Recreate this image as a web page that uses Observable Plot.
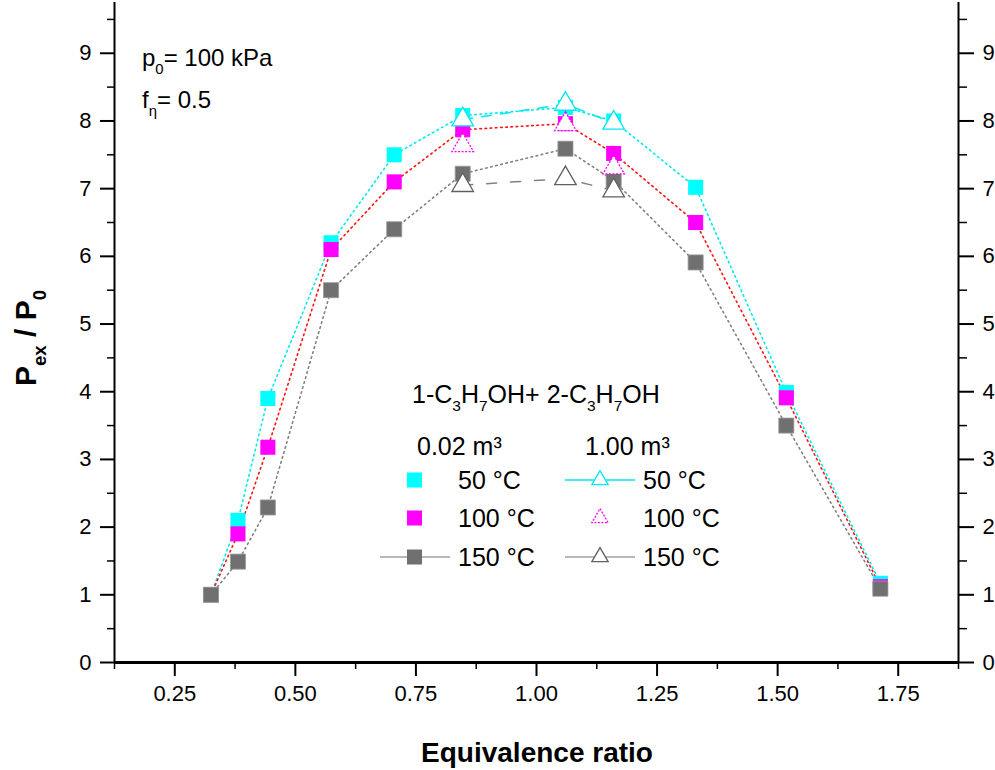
<!DOCTYPE html>
<html><head><meta charset="utf-8">
<script src="https://cdn.jsdelivr.net/npm/d3@7"></script>
<script src="https://cdn.jsdelivr.net/npm/@observablehq/plot@0.6"></script>
<style>
body{margin:0;background:#fff;}
#chart{width:995px;height:770px;}
</style>
</head><body><div id="chart"></div>
<script>
// ---- data ----
const phi = [0.325, 0.381, 0.443, 0.574, 0.705, 0.847, 1.06, 1.16, 1.33, 1.518, 1.713];
const small50  = [1.0, 2.1, 3.9, 6.2, 7.5, 8.08, 8.2, 8.0, 7.02, 3.99, 1.17];
const small100 = [1.0, 1.9, 3.18, 6.1, 7.1, 7.87, 7.96, 7.52, 6.5, 3.91, 1.12];
const small150 = [1.0, 1.49, 2.29, 5.5, 6.4, 7.22, 7.59, 7.12, 5.91, 3.5, 1.09];
const phiLarge = [0.847, 1.06, 1.16];
const large50  = [8.02, 8.25, 7.97];
const large100 = [7.64, 7.95, 7.31];
const large150 = [7.05, 7.15, 6.97];
const temps = ["50 °C", "100 °C", "150 °C"];
const markColors = ["#00ffff", "#ff00ff", "#707070"];
const lineColors = ["#00e8f0", "#ff1010", "#808080"];
const triColors = ["#00e8f0", "#ff00ff", "#606060"];

const xDomain = [0.125, 1.875];
const yDomain = [0, 9.75];
const xMajor = [0.25, 0.5, 0.75, 1.0, 1.25, 1.5, 1.75];
const xMinor = [0.125, 0.375, 0.625, 0.875, 1.125, 1.375, 1.625, 1.875];
const yMajor = [0, 1, 2, 3, 4, 5, 6, 7, 8, 9];
const yMinor = [0.5, 1.5, 2.5, 3.5, 4.5, 5.5, 6.5, 7.5, 8.5, 9.5];

// ---- tables ----
const smallSeries = [small50, small100, small150];
const largeSeries = [large50, large100, large150];
const smallRows = smallSeries.flatMap((ys, k) => phi.map((x, i) => ({x, y: ys[i], k})));
const largeRows = largeSeries.flatMap((ys, k) => phiLarge.map((x, i) => ({x, y: ys[i], k})));

const font = "'Liberation Sans', Arial, sans-serif";
const marks = [];
// dotted lines for 0.02 m3
for (let k = 0; k < 3; k++) {
  marks.push(Plot.line(smallRows.filter(d => d.k === k), {x: "x", y: "y", stroke: lineColors[k], strokeWidth: 1.6, strokeDasharray: "1.6,3.6"}));
}
// dashed lines for 1.00 m3 (50 and 150 °C)
marks.push(Plot.line(largeRows.filter(d => d.k === 0), {x: "x", y: "y", stroke: lineColors[0], strokeWidth: 1.5, strokeDasharray: "10,9"}));
marks.push(Plot.line(largeRows.filter(d => d.k === 2), {x: "x", y: "y", stroke: lineColors[2], strokeWidth: 1.5, strokeDasharray: "10,14"}));
// squares
for (let k = 0; k < 3; k++) {
  marks.push(Plot.dot(smallRows.filter(d => d.k === k), {x: "x", y: "y", symbol: "square", r: 8.5, fill: markColors[k], stroke: k === 2 ? "#999" : "none", strokeWidth: 0.8}));
}
// triangles
for (let k = 0; k < 3; k++) {
  marks.push(Plot.dot(largeRows.filter(d => d.k === k), {x: "x", y: "y", symbol: "triangle", r: 8, fill: "white", stroke: triColors[k], strokeWidth: 1.3, strokeDasharray: k === 1 ? "2,1.5" : null}));
}

const svg = Plot.plot({
  width: 995,
  height: 770,
  marginLeft: 114,
  marginRight: 37,
  marginTop: 2,
  marginBottom: 108,
  style: {fontFamily: font, fontSize: "22px", color: "#000", background: "#fff"},
  x: {domain: xDomain},
  y: {domain: yDomain},
  marks: [
    ...marks,
    Plot.ruleX(xDomain, {stroke: "#000", strokeWidth: 2}),
    Plot.ruleY([yDomain[0]], {stroke: "#000", strokeWidth: 3}),
    Plot.axisX(xMajor, {tickSize: 14, tickPadding: 9, tickFormat: d3.format(".2f"), label: null, strokeWidth: 2, fontSize: 22}),
    Plot.axisX(xMinor, {tickSize: 7, tickFormat: () => "", label: null, strokeWidth: 1.5}),
    Plot.axisY(yMajor, {anchor: "left", tickSize: 14, tickPadding: 9, tickFormat: d3.format("d"), label: null, strokeWidth: 2, fontSize: 22}),
    Plot.axisY(yMinor, {anchor: "left", tickSize: 7, tickFormat: () => "", label: null, strokeWidth: 1.5}),
    Plot.axisY(yMajor, {anchor: "right", tickSize: 15, tickPadding: 9, tickFormat: d3.format("d"), label: null, strokeWidth: 2, fontSize: 22}),
    Plot.axisY(yMinor, {anchor: "right", tickSize: 8, tickFormat: () => "", label: null, strokeWidth: 1.5})
  ]
});

const s = d3.select(svg);
function addRich(g, x, y, segs, size, weight, anchor) {
  const t = g.append("text").attr("x", x).attr("y", y).attr("font-size", size)
    .attr("font-family", font).attr("fill", "#000").attr("text-anchor", anchor || "start");
  if (weight) t.attr("font-weight", weight);
  let shift = 0;
  segs.forEach(([txt, kind]) => {
    const sp = t.append("tspan").text(txt);
    let target = 0;
    if (kind === "sub") { target = size * 0.32; sp.attr("font-size", size * 0.62); }
    sp.attr("dy", target - shift);
    shift = target;
  });
  return t;
}
const g = s.append("g");
// annotations
addRich(g, 142, 66, [["p"], ["0", "sub"], ["= 100 kPa"]], 24);
addRich(g, 142, 108, [["f"], ["η", "sub"], ["= 0.5"]], 24);
// axis titles
addRich(g, 537, 762, [["Equivalence ratio"]], 28, "bold", "middle");
addRich(g, 0, 0, [["P"], ["ex", "sub"], [" / P"], ["0", "sub"]], 30, "bold", "middle")
  .attr("transform", "translate(36,338) rotate(-90)");

// legend
const L = s.append("g");
const fs = 25;
addRich(L, 412, 403, [["1-C"], ["3", "sub"], ["H"], ["7", "sub"], ["OH+ 2-C"], ["3", "sub"], ["H"], ["7", "sub"], ["OH"]], fs);
addRich(L, 417, 455, [["0.02 m³"]], fs);
addRich(L, 585, 455, [["1.00 m³"]], fs);
const rowY = [480, 518, 557];
temps.forEach((tname, k) => {
  const cy = rowY[k];
  if (k === 2) L.append("line").attr("x1", 380).attr("x2", 450).attr("y1", cy).attr("y2", cy).attr("stroke", "#a0a0a0").attr("stroke-width", 1.5);
  L.append("rect").attr("x", 407).attr("y", cy - 7.5).attr("width", 15).attr("height", 15).attr("fill", markColors[k]);
  addRich(L, 458, cy + 9, [[tname]], fs);
  if (k !== 1) L.append("line").attr("x1", 565).attr("x2", 635).attr("y1", cy).attr("y2", cy).attr("stroke", k === 0 ? lineColors[0] : "#a0a0a0").attr("stroke-width", 1.5);
  L.append("path").attr("d", d3.symbol(d3.symbolTriangle2, 190)()).attr("transform", `translate(600,${cy})`)
    .attr("fill", "white").attr("stroke", triColors[k]).attr("stroke-width", 1.3).attr("stroke-dasharray", k === 1 ? "2,1.5" : null);
  addRich(L, 643, cy + 9, [[tname]], fs);
});

document.getElementById("chart").appendChild(svg);
</script>
</body></html>
